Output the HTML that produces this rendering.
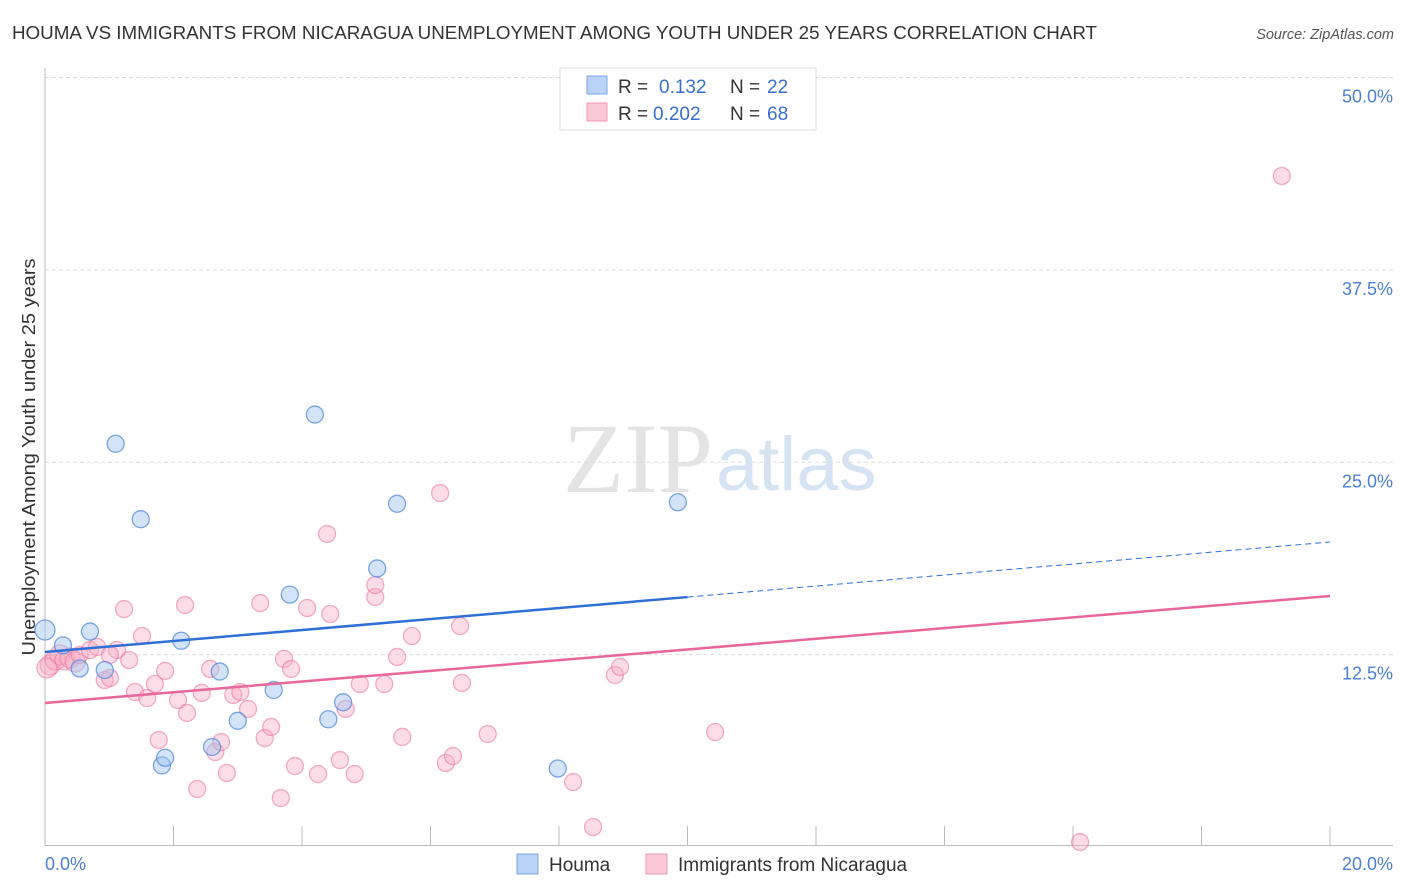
<!DOCTYPE html>
<html><head><meta charset="utf-8"><style>
body{margin:0;background:#fff;font-family:"Liberation Sans",sans-serif}
svg{display:block}
</style></head><body>
<svg width="1406" height="892" id="c">
<text x="12" y="39" font-size="18" textLength="1085" lengthAdjust="spacingAndGlyphs" fill="#333">HOUMA VS IMMIGRANTS FROM NICARAGUA UNEMPLOYMENT AMONG YOUTH UNDER 25 YEARS CORRELATION CHART</text>
<text x="1394" y="39" font-size="14.5" fill="#555" font-style="italic" text-anchor="end">Source: ZipAtlas.com</text>
<text x="713" y="492" font-size="100" fill="#e4e4e4" text-anchor="end" font-family="Liberation Serif,serif">ZIP</text>
<text x="716" y="490" font-size="76" fill="#d6e3f3">atlas</text>
<text transform="translate(35,457) rotate(-90)" font-size="18" textLength="397" lengthAdjust="spacingAndGlyphs" fill="#333" text-anchor="middle">Unemployment Among Youth under 25 years</text>
<g id="grid"></g><g id="marks"></g>
<g>
<rect x="560" y="68" width="256" height="62" fill="#fff" stroke="#ddd"/>
<rect x="587" y="76" width="20" height="18" fill="#b8d3f5" stroke="#7aaae6"/>
<rect x="587" y="103" width="20" height="18" fill="#fcc8d6" stroke="#f19ab4"/>
<text x="618" y="93" font-size="19" fill="#333">R = <tspan fill="#3a6fcf" x="659">0.132</tspan><tspan x="730" fill="#333">N = </tspan><tspan fill="#3a6fcf" x="767">22</tspan></text>
<text x="618" y="120" font-size="19" fill="#333">R = <tspan fill="#3a6fcf" x="653">0.202</tspan><tspan x="730" fill="#333">N = </tspan><tspan fill="#3a6fcf" x="767">68</tspan></text>
</g>
<g>
<rect x="517" y="854" width="21" height="20" fill="#b8d3f5" stroke="#7aaae6"/>
<text x="549" y="871" font-size="19" fill="#333">Houma</text>
<rect x="646" y="854" width="21" height="20" fill="#fcc8d6" stroke="#f19ab4"/>
<text x="678" y="871" font-size="19" fill="#333">Immigrants from Nicaragua</text>
</g>
</svg>
<script>
const yTicks=[12.5,25,37.5,50];
const yTickLabels=["12.5%","25.0%","37.5%","50.0%"];
const xTickLabels=["0.0%","20.0%"];
const houmaX=[0,0.28,0.54,0.70,0.93,1.10,1.49,1.82,1.87,2.12,2.60,2.72,3.00,3.56,3.81,4.20,4.41,4.64,5.17,5.48,7.98,9.85];
const houmaY=[14.1,13.1,11.6,14.0,11.5,26.2,21.3,5.3,5.8,13.4,6.5,11.4,8.2,10.2,16.4,28.1,8.3,9.4,18.1,22.3,5.1,22.4];
const nicX=[0.08,0.16,0.23,0.31,0.39,0.47,0.54,0.70,0.81,0.93,1.01,1.12,1.23,1.31,1.40,1.51,1.59,1.71,1.87,1.77,2.07,2.18,2.21,2.37,2.44,2.57,2.65,2.74,2.83,2.93,3.04,3.16,3.35,3.42,3.52,3.67,3.72,3.83,3.89,4.08,4.25,4.44,4.39,4.59,4.68,4.82,4.90,5.14,5.14,5.28,5.48,5.56,5.71,6.15,6.24,6.35,6.46,6.49,6.89,8.22,8.53,8.87,8.95,10.43,16.11,19.25,0.03,1.01];
const nicY=[11.83,12.15,12.48,12.15,12.28,12.02,12.48,12.8,13.0,10.85,10.98,12.8,15.46,12.15,10.07,13.71,9.68,10.59,11.44,6.95,9.55,15.72,8.71,3.77,10.01,11.57,6.17,6.82,4.81,9.88,10.07,8.97,15.85,7.08,7.8,3.18,12.22,11.57,5.26,15.53,4.74,15.14,20.34,5.65,8.97,4.74,10.59,16.24,17.02,10.59,12.35,7.15,13.71,23.0,5.46,5.91,14.36,10.66,7.34,4.22,1.3,11.18,11.7,7.47,0.32,43.6,11.63,12.48];
const houmaTrend=[12.67,16.24,19.82];
const nicTrend=[9.36,16.31];
const X=v=>45+v*64.25, Y=v=>847-v*15.39;
const NS="http://www.w3.org/2000/svg";
function mk(p,t,a){const e=document.createElementNS(NS,t);for(const k in a)e.setAttribute(k,a[k]);p.appendChild(e);return e;}
const g=document.getElementById('grid'), m=document.getElementById('marks');
yTicks.forEach((t,i)=>{
 const l=mk(g,'line',{x1:45,x2:1393,y1:Y(t),y2:Y(t),stroke:'#ddd','stroke-dasharray':'4 3'});
 
 
 const tx=mk(g,'text',{x:1393,y:Y(t)+25,'font-size':18,fill:'#4a7fd4','text-anchor':'end'});tx.textContent=yTickLabels[i];
 
 
});
mk(g,'line',{x1:45,x2:45,y1:68,y2:846,stroke:'#bbb'});
mk(g,'line',{x1:45,x2:1393,y1:845.5,y2:845.5,stroke:'#bbb'});
for(let k=1;k<=10;k++){const t=mk(g,'line',{x1:45+128.5*k,x2:45+128.5*k,y1:826,y2:845,stroke:'#bbb'});
 
 }
[[0,'start',45],[20,'end',1393]].forEach((d,i)=>{const t=mk(g,'text',{x:d[2],y:870,'font-size':18,fill:'#4a7fd4','text-anchor':d[1]});t.textContent=xTickLabels[i];
 
 });
nicX.forEach((x,i)=>{const c=mk(m,'circle',{cx:X(x),cy:Y(nicY[i]),r:x<0.5?10:8.5,fill:'rgba(248,170,195,0.4)',stroke:'rgba(236,120,160,0.6)','stroke-width':1.3});
 
 });
houmaX.forEach((x,i)=>{const c=mk(m,'circle',{cx:X(x),cy:Y(houmaY[i]),r:x<0.1?10:8.5,fill:'rgba(160,195,240,0.45)',stroke:'rgba(70,130,220,0.7)','stroke-width':1.3});
 
 });
let l=mk(m,'line',{x1:X(0),y1:Y(houmaTrend[0]),x2:X(10),y2:Y(houmaTrend[1]),stroke:'#2f6fd6','stroke-width':2.5});


l=mk(m,'line',{x1:X(10),y1:Y(houmaTrend[1]),x2:X(20),y2:Y(houmaTrend[2]),stroke:'#2f6fd6','stroke-width':1,'stroke-dasharray':'6 4'});


l=mk(m,'line',{x1:X(0),y1:Y(nicTrend[0]),x2:X(20),y2:Y(nicTrend[1]),stroke:'#e8679a','stroke-width':2.5});


</script>
</body></html>
